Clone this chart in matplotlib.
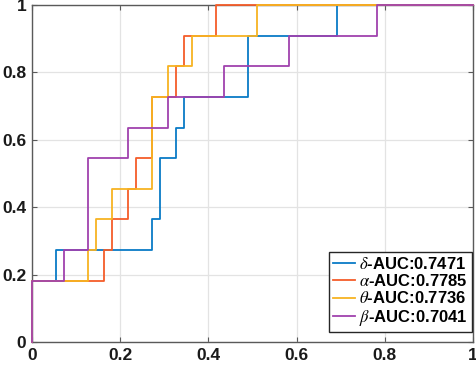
import matplotlib
matplotlib.use("Agg")
import matplotlib.pyplot as plt
import numpy as np

plt.rcParams['font.family'] = ['Liberation Sans', 'DejaVu Sans']
plt.rcParams['mathtext.fontset'] = 'stix'

N_NEG = 55
N_POS = 11

labels = [r'$\delta$-AUC:0.7471', r'$\alpha$-AUC:0.7785', r'$\theta$-AUC:0.7736', r'$\beta$-AUC:0.7041']
colors = ['#0A7BC6', '#F45D2A', '#F7B322', '#A042AE']

# ROC step vertices: false positive counts and true positive counts
fp_blue = [0, 0, 3, 15, 16, 18, 19, 27, 38, 55]
tp_blue = [0, 2, 3, 4, 6, 7, 8, 10, 11, 11]
fp_orange = [0, 0, 9, 10, 12, 13, 15, 18, 19, 23, 55]
tp_orange = [0, 2, 3, 4, 5, 6, 8, 9, 10, 11, 11]
fp_yellow = [0, 0, 7, 8, 10, 15, 17, 20, 28, 55]
tp_yellow = [0, 2, 3, 4, 5, 8, 9, 10, 11, 11]
fp_purple = [0, 0, 4, 7, 12, 17, 24, 32, 43, 55]
tp_purple = [0, 2, 3, 6, 7, 8, 9, 10, 11, 11]

series = [(fp_blue, tp_blue), (fp_orange, tp_orange), (fp_yellow, tp_yellow), (fp_purple, tp_purple)]

fig = plt.figure(figsize=(4.77, 3.68), dpi=100)
ax = fig.add_axes([32/477, 26/368, 441/477, 337/368])

for (fp, tp), c, lab in zip(series, colors, labels):
    x = np.array(fp) / N_NEG
    y = np.array(tp) / N_POS
    ax.step(x, y, where='post', color=c, lw=1.3, label=lab, zorder=3, clip_on=False)

ax.set_xlim(0, 1)
ax.set_ylim(0, 1)
ticks = [0, 0.2, 0.4, 0.6, 0.8, 1]
ticklabels = ['0', '0.2', '0.4', '0.6', '0.8', '1']
ax.set_xticks(ticks)
ax.set_xticklabels(ticklabels)
ax.set_yticks(ticks)
ax.set_yticklabels(ticklabels)
ax.grid(True, color='#E3E3E3', lw=0.9, zorder=0)
ax.set_axisbelow(True)
for s in ax.spines.values():
    s.set_color('#5A5A5A')
    s.set_linewidth(1.0)
ax.tick_params(direction='in', length=3.5, width=0.8, color='#5A5A5A',
               top=True, right=True, labelsize=12.5, pad=4)
for t in ax.get_xticklabels() + ax.get_yticklabels():
    t.set_fontweight('bold')
    t.set_color('#1A1A1A')

leg = ax.legend(loc='lower right', bbox_to_anchor=(0.998, 0.03),
                prop={'weight': 'bold', 'size': 12}, handlelength=1.3, handletextpad=0.25,
                labelspacing=0.08, borderpad=0.25, borderaxespad=0, fancybox=False,
                framealpha=1, edgecolor='#262626')
leg.get_frame().set_linewidth(1.0)
for h in leg.get_lines():
    h.set_linewidth(1.3)

fig.savefig('out.png', dpi=100)
